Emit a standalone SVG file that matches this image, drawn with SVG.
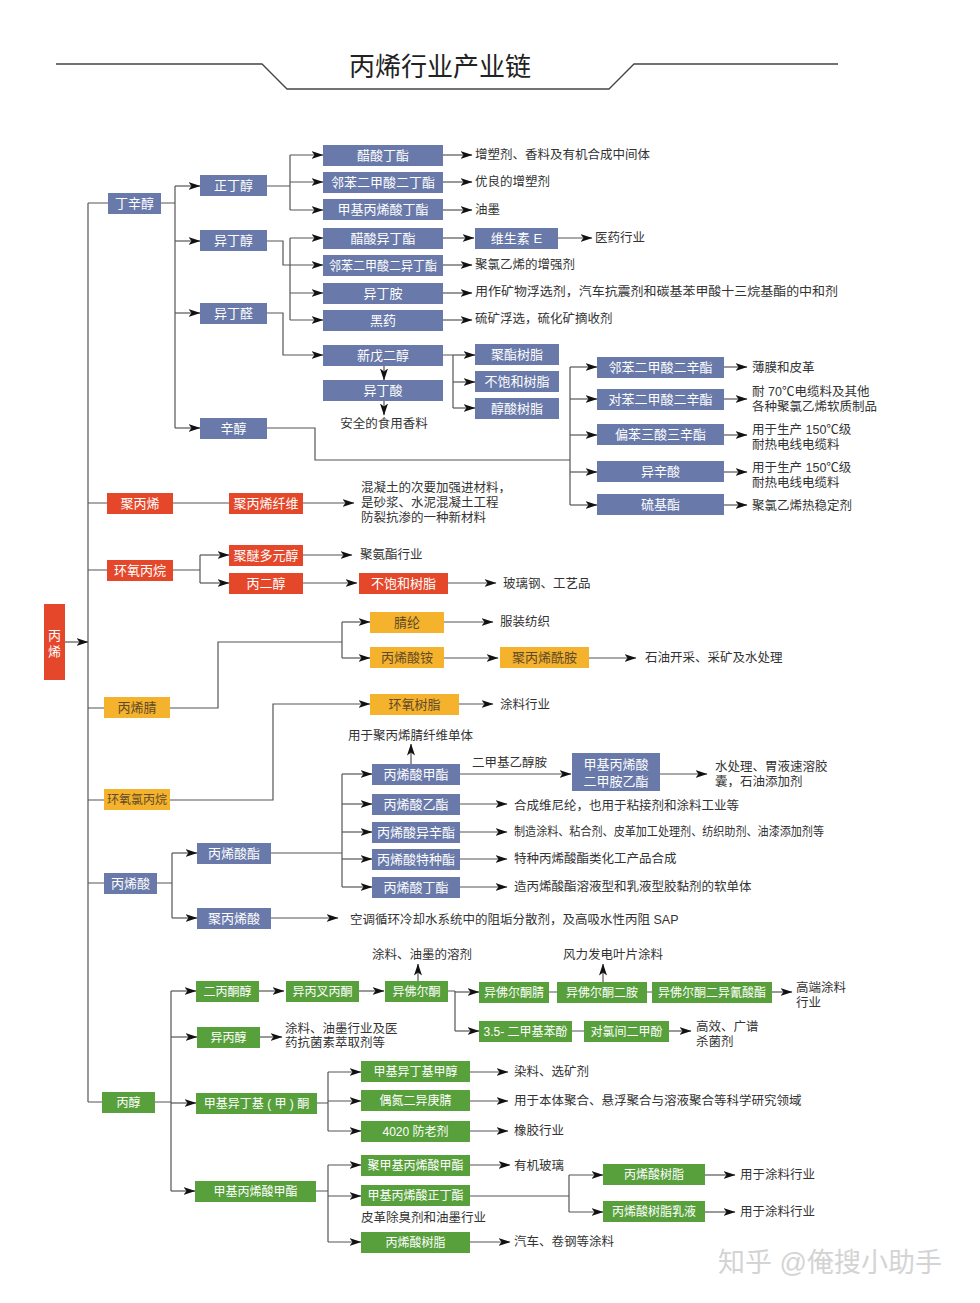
<svg xmlns="http://www.w3.org/2000/svg" width="980" height="1303" viewBox="0 0 980 1303">
<style>
.B{fill:#6879aa}.R{fill:#e4472a}.Y{fill:#f5b22c}.G{fill:#58a03c}
text{font-family:"Liberation Sans","Noto Sans CJK SC",sans-serif;dominant-baseline:central}
.t{font-size:13px;fill:#fff;text-anchor:middle}
.ty{font-size:13px;fill:#5e4a2a;text-anchor:middle}
.tg{font-size:12px;fill:#fff;text-anchor:middle}
.l{font-size:12.5px;fill:#333}
.lc{font-size:12.5px;fill:#333;text-anchor:middle}
.c{fill:none;stroke:#555;stroke-width:1.2}
.a{marker-end:url(#ah)}
</style>
<defs>
<marker id="ah" viewBox="0 0 12 8" refX="11.5" refY="4" markerWidth="12" markerHeight="8" markerUnits="userSpaceOnUse" orient="auto"><path d="M0,0 L12,4 L0,8 L3,4 z" fill="#111"/></marker>
</defs>
<rect width="980" height="1303" fill="#fff"/>
<g id="title">
<path d="M56,64 H262 L287,89 H609 L634,64 H838" fill="none" stroke="#444" stroke-width="1.3"/>
<text x="440" y="67" style="font-size:26px;fill:#222;text-anchor:middle">丙烯行业产业链</text>
</g>
<g id="connectors">
<path class="c a" d="M65,642 H88"/>
<path class="c" d="M88,203 V1102 M88,203 H108 M88,503 H107 M88,570 H107 M88,708 H104 M88,800 H104 M88,883 H104 M88,1102 H102"/>
<path class="c" d="M161,203 H175 M175,186 V428"/>
<path class="c a" d="M175,186 H200"/><path class="c a" d="M175,241 H200"/><path class="c a" d="M175,313 H200"/><path class="c a" d="M175,428 H200"/>
<path class="c" d="M267,186 H290 M290,155 V210 M290,238 V320"/>
<path class="c a" d="M290,155 H323"/><path class="c a" d="M290,182 H323"/><path class="c a" d="M290,210 H323"/>
<path class="c a" d="M267,241 H283 V265 H323"/>
<path class="c a" d="M290,238 H323"/><path class="c a" d="M290,293 H323"/><path class="c a" d="M290,320 H323"/>
<path class="c a" d="M267,313 H283 V355 H323"/>
<path class="c a" d="M443,155 H472"/><path class="c a" d="M443,182 H472"/><path class="c a" d="M443,210 H472"/><path class="c a" d="M443,238 H474"/><path class="c a" d="M558,238 H592"/><path class="c a" d="M443,265 H472"/><path class="c a" d="M443,293 H472"/><path class="c a" d="M443,320 H472"/>
<path class="c a" d="M384,366 V380"/><path class="c a" d="M384,401 V415"/>
<path class="c" d="M443,355 H453 M453,355 V408"/>
<path class="c a" d="M453,355 H475"/><path class="c a" d="M453,382 H475"/><path class="c a" d="M453,408 H475"/>
<path class="c" d="M267,428 H315 V460 H570 M570,367 V505"/>
<path class="c a" d="M570,367 H597"/><path class="c a" d="M570,399 H597"/><path class="c a" d="M570,435 H597"/><path class="c a" d="M570,472 H597"/><path class="c a" d="M570,505 H597"/>
<path class="c a" d="M724,367 H747"/><path class="c a" d="M724,399 H747"/><path class="c a" d="M724,435 H747"/><path class="c a" d="M724,472 H747"/><path class="c a" d="M724,505 H747"/>
<path class="c" d="M173,503 H229"/><path class="c a" d="M303,503 H354"/>
<path class="c" d="M173,570 H200 M200,555 V583"/>
<path class="c a" d="M200,555 H229"/><path class="c a" d="M200,583 H229"/>
<path class="c a" d="M303,555 H352"/><path class="c a" d="M303,583 H357"/><path class="c a" d="M448,583 H496"/>
<path class="c" d="M170,708 H218 V642 H342 M342,622 V658"/>
<path class="c a" d="M342,622 H370"/><path class="c a" d="M342,658 H370"/>
<path class="c a" d="M444,622 H493"/><path class="c a" d="M444,658 H498"/><path class="c a" d="M589,658 H636"/>
<path class="c a" d="M170,800 H273 V704 H370"/><path class="c a" d="M459,704 H493"/>
<path class="c" d="M157,883 H172 M172,853 V918"/>
<path class="c a" d="M172,853 H197"/><path class="c a" d="M172,918 H197"/>
<path class="c a" d="M271,918 H338"/>
<path class="c" d="M271,853 H342 M342,774 V887"/>
<path class="c a" d="M342,774 H372"/><path class="c a" d="M342,804 H372"/><path class="c a" d="M342,832 H372"/><path class="c a" d="M342,859 H372"/><path class="c a" d="M342,887 H372"/>
<path class="c a" d="M411,764 V744"/>
<path class="c a" d="M460,774 H571"/><path class="c a" d="M660,774 H707"/>
<path class="c a" d="M460,804 H507"/><path class="c a" d="M460,832 H507"/><path class="c a" d="M460,859 H507"/><path class="c a" d="M460,887 H507"/>
<path class="c" d="M154,1102 H171 M171,991 V1191"/>
<path class="c a" d="M171,991 H196"/><path class="c a" d="M171,1037 H197"/><path class="c a" d="M171,1103 H196"/><path class="c a" d="M171,1191 H195"/>
<path class="c a" d="M259,991 H284"/><path class="c a" d="M359,991 H384"/>
<path class="c a" d="M418,981 V964"/>
<path class="c" d="M448,991 H455 M455,991 V1031"/>
<path class="c a" d="M455,992 H479"/><path class="c a" d="M455,1031 H479"/>
<path class="c" d="M549,992 H557 M647,992 H652 M572,1031 H584"/>
<path class="c a" d="M772,992 H792"/><path class="c a" d="M603,982 V964"/><path class="c a" d="M669,1031 H691"/>
<path class="c a" d="M260,1037 H282"/>
<path class="c" d="M317,1103 H328 M328,1072 V1131"/>
<path class="c a" d="M328,1072 H361"/><path class="c a" d="M328,1101 H361"/><path class="c a" d="M328,1131 H361"/>
<path class="c a" d="M470,1072 H508"/><path class="c a" d="M470,1101 H508"/><path class="c a" d="M470,1131 H508"/>
<path class="c" d="M316,1191 H328 M328,1165 V1242"/>
<path class="c a" d="M328,1165 H361"/><path class="c a" d="M328,1196 H361"/><path class="c a" d="M328,1242 H361"/>
<path class="c a" d="M470,1165 H510"/><path class="c a" d="M470,1242 H510"/>
<path class="c" d="M470,1196 H569 M569,1175 V1212"/>
<path class="c a" d="M569,1175 H603"/><path class="c a" d="M569,1212 H603"/>
<path class="c a" d="M705,1175 H735"/><path class="c a" d="M705,1212 H735"/>
</g>
<g id="n-root"><rect class="R" x="44" y="604" width="21" height="76"/><text class="t" x="54.5" y="635">丙</text><text class="t" x="54.5" y="651">烯</text></g>
<g id="n-dingxinchun"><rect class="B" x="108" y="193" width="53" height="21"/><text class="t" x="134.5" y="203.5">丁辛醇</text></g>
<g id="n-zhengdingchun"><rect class="B" x="200" y="175" width="67" height="21"/><text class="t" x="233.5" y="185.5">正丁醇</text></g>
<g id="n-yidingchun"><rect class="B" x="200" y="230" width="67" height="21"/><text class="t" x="233.5" y="240.5">异丁醇</text></g>
<g id="n-yidingquan"><rect class="B" x="200" y="303" width="67" height="21"/><text class="t" x="233.5" y="313.5">异丁醛</text></g>
<g id="n-xinchun"><rect class="B" x="200" y="418" width="67" height="21"/><text class="t" x="233.5" y="428.5">辛醇</text></g>
<g id="n-cusuandingzhi"><rect class="B" x="323" y="145" width="120" height="21"/><text class="t" x="383" y="155.5">醋酸丁酯</text></g>
<g id="n-lbejdz"><rect class="B" x="323" y="172" width="120" height="21"/><text class="t" x="383" y="182.5">邻苯二甲酸二丁酯</text></g>
<g id="n-jjbxsdz"><rect class="B" x="323" y="199" width="120" height="21"/><text class="t" x="383" y="209.5">甲基丙烯酸丁酯</text></g>
<g id="n-cusuanyidingzhi"><rect class="B" x="323" y="228" width="120" height="21"/><text class="t" x="383" y="238.5">醋酸异丁酯</text></g>
<g id="n-lbejdyz"><rect class="B" x="323" y="255" width="120" height="21"/><text class="t" x="383" y="265.5" textLength="108" lengthAdjust="spacingAndGlyphs">邻苯二甲酸二异丁酯</text></g>
<g id="n-yidingan"><rect class="B" x="323" y="283" width="120" height="21"/><text class="t" x="383" y="293.5">异丁胺</text></g>
<g id="n-heiyao"><rect class="B" x="323" y="310" width="120" height="21"/><text class="t" x="383" y="320.5">黑药</text></g>
<g id="n-xinwuerchun"><rect class="B" x="323" y="345" width="120" height="21"/><text class="t" x="383" y="355.5">新戊二醇</text></g>
<g id="n-yidingsuan"><rect class="B" x="323" y="380" width="120" height="21"/><text class="t" x="383" y="390.5">异丁酸</text></g>
<g id="n-vite"><rect class="B" x="475" y="228" width="83" height="21"/><text class="t" x="516.5" y="238.5">维生素 E</text></g>
<g id="n-juzhishuzhi"><rect class="B" x="475" y="344" width="84" height="21"/><text class="t" x="517" y="354.5">聚酯树脂</text></g>
<g id="n-bubaohe1"><rect class="B" x="475" y="371" width="84" height="21"/><text class="t" x="517" y="381.5">不饱和树脂</text></g>
<g id="n-chunsuan"><rect class="B" x="475" y="398" width="84" height="21"/><text class="t" x="517" y="408.5">醇酸树脂</text></g>
<g id="n-lbexz"><rect class="B" x="597" y="357" width="127" height="21"/><text class="t" x="660.5" y="367.5">邻苯二甲酸二辛酯</text></g>
<g id="n-dbexz"><rect class="B" x="597" y="389" width="127" height="21"/><text class="t" x="660.5" y="399.5">对苯二甲酸二辛酯</text></g>
<g id="n-pbssxz"><rect class="B" x="597" y="424" width="127" height="21"/><text class="t" x="660.5" y="434.5">偏苯三酸三辛酯</text></g>
<g id="n-yixinsuan"><rect class="B" x="597" y="461" width="127" height="21"/><text class="t" x="660.5" y="471.5">异辛酸</text></g>
<g id="n-liujizhi"><rect class="B" x="597" y="494" width="127" height="21"/><text class="t" x="660.5" y="504.5">硫基酯</text></g>
<g id="n-jubingxi"><rect class="R" x="107" y="493" width="66" height="21"/><text class="t" x="140" y="503.5">聚丙烯</text></g>
<g id="n-jbxxw"><rect class="R" x="229" y="493" width="74" height="21"/><text class="t" x="266" y="503.5">聚丙烯纤维</text></g>
<g id="n-hybw"><rect class="R" x="107" y="560" width="66" height="21"/><text class="t" x="140" y="570.5">环氧丙烷</text></g>
<g id="n-jmdyc"><rect class="R" x="229" y="545" width="74" height="21"/><text class="t" x="266" y="555.5">聚醚多元醇</text></g>
<g id="n-bingerchun"><rect class="R" x="229" y="573" width="74" height="21"/><text class="t" x="266" y="583.5">丙二醇</text></g>
<g id="n-bubaohe2"><rect class="R" x="359" y="573" width="89" height="21"/><text class="t" x="403.5" y="583.5">不饱和树脂</text></g>
<g id="n-bingxijing"><rect class="Y" x="104" y="697" width="66" height="21"/><text class="ty" x="137" y="707.5">丙烯腈</text></g>
<g id="n-hylbw"><rect class="Y" x="104" y="789" width="66" height="21"/><text class="ty" x="137" y="799.5" style="font-size:12px" textLength="60" lengthAdjust="spacingAndGlyphs">环氧氯丙烷</text></g>
<g id="n-jinglun"><rect class="Y" x="370" y="612" width="74" height="21"/><text class="ty" x="407" y="622.5">腈纶</text></g>
<g id="n-bxsa"><rect class="Y" x="370" y="647" width="74" height="21"/><text class="ty" x="407" y="657.5">丙烯酸铵</text></g>
<g id="n-jbxxa"><rect class="Y" x="500" y="647" width="89" height="21"/><text class="ty" x="544.5" y="657.5">聚丙烯酰胺</text></g>
<g id="n-hysz"><rect class="Y" x="370" y="694" width="89" height="21"/><text class="ty" x="414.5" y="704.5">环氧树脂</text></g>
<g id="n-bingxisuan"><rect class="B" x="104" y="873" width="53" height="21"/><text class="t" x="130.5" y="883.5">丙烯酸</text></g>
<g id="n-bxsz"><rect class="B" x="197" y="843" width="74" height="21"/><text class="t" x="234" y="853.5">丙烯酸酯</text></g>
<g id="n-jbxs"><rect class="B" x="197" y="908" width="74" height="21"/><text class="t" x="234" y="918.5">聚丙烯酸</text></g>
<g id="n-bxsjz"><rect class="B" x="372" y="764" width="88" height="21"/><text class="t" x="416" y="774.5">丙烯酸甲酯</text></g>
<g id="n-bxsyz"><rect class="B" x="372" y="794" width="88" height="21"/><text class="t" x="416" y="804.5">丙烯酸乙酯</text></g>
<g id="n-bxsyxz"><rect class="B" x="372" y="822" width="88" height="21"/><text class="t" x="416" y="832.5">丙烯酸异辛酯</text></g>
<g id="n-bxstzz"><rect class="B" x="372" y="849" width="88" height="21"/><text class="t" x="416" y="859.5">丙烯酸特种酯</text></g>
<g id="n-bxsdz"><rect class="B" x="372" y="877" width="88" height="21"/><text class="t" x="416" y="887.5">丙烯酸丁酯</text></g>
<g id="n-jjbxsejayz"><rect class="B" x="572" y="753" width="88" height="38"/><text class="t" x="616" y="764">甲基丙烯酸</text><text class="t" x="616" y="781">二甲胺乙酯</text></g>
<g id="n-bingchun"><rect class="G" x="102" y="1092" width="53" height="21"/><text class="tg" x="128.5" y="1102.5">丙醇</text></g>
<g id="n-ebtc"><rect class="G" x="196" y="981" width="63" height="21"/><text class="tg" x="227.5" y="991.5">二丙酮醇</text></g>
<g id="n-ybcbt"><rect class="G" x="286" y="981" width="73" height="21"/><text class="tg" x="322.5" y="991.5">异丙叉丙酮</text></g>
<g id="n-yfet"><rect class="G" x="385" y="981" width="63" height="21"/><text class="tg" x="416.5" y="991.5">异佛尔酮</text></g>
<g id="n-yfetj"><rect class="G" x="479" y="982" width="70" height="21"/><text class="tg" x="514" y="992.5">异佛尔酮腈</text></g>
<g id="n-yfetea"><rect class="G" x="557" y="982" width="90" height="21"/><text class="tg" x="602" y="992.5">异佛尔酮二胺</text></g>
<g id="n-yfeteyqsz"><rect class="G" x="652" y="982" width="120" height="21"/><text class="tg" x="712" y="992.5">异佛尔酮二异氰酸酯</text></g>
<g id="n-35ejbf"><rect class="G" x="479" y="1021" width="93" height="21"/><text class="tg" x="525.5" y="1031.5">3.5- 二甲基苯酚</text></g>
<g id="n-dljejf"><rect class="G" x="584" y="1021" width="85" height="21"/><text class="tg" x="626.5" y="1031.5">对氯间二甲酚</text></g>
<g id="n-yibingchun"><rect class="G" x="197" y="1027" width="63" height="21"/><text class="tg" x="228.5" y="1037.5">异丙醇</text></g>
<g id="n-jjydjt"><rect class="G" x="196" y="1093" width="121" height="21"/><text class="tg" x="256.5" y="1103.5">甲基异丁基 ( 甲 ) 酮</text></g>
<g id="n-jjydjjc"><rect class="G" x="361" y="1061" width="109" height="21"/><text class="tg" x="415.5" y="1071.5">甲基异丁基甲醇</text></g>
<g id="n-odeygj"><rect class="G" x="361" y="1090" width="109" height="21"/><text class="tg" x="415.5" y="1100.5">偶氮二异庚腈</text></g>
<g id="n-4020"><rect class="G" x="361" y="1121" width="109" height="21"/><text class="tg" x="415.5" y="1131.5">4020 防老剂</text></g>
<g id="n-jjbxsjz"><rect class="G" x="195" y="1181" width="121" height="21"/><text class="tg" x="255.5" y="1191.5">甲基丙烯酸甲酯</text></g>
<g id="n-jjjbxsjz"><rect class="G" x="361" y="1155" width="109" height="21"/><text class="tg" x="415.5" y="1165.5">聚甲基丙烯酸甲酯</text></g>
<g id="n-jjbxszdz"><rect class="G" x="361" y="1185" width="109" height="21"/><text class="tg" x="415.5" y="1195.5">甲基丙烯酸正丁酯</text></g>
<g id="n-bxssz1"><rect class="G" x="361" y="1232" width="109" height="21"/><text class="tg" x="415.5" y="1242.5">丙烯酸树脂</text></g>
<g id="n-bxssz2"><rect class="G" x="603" y="1164" width="102" height="21"/><text class="tg" x="654" y="1174.5">丙烯酸树脂</text></g>
<g id="n-bxsszry"><rect class="G" x="603" y="1201" width="102" height="21"/><text class="tg" x="654" y="1211.5">丙烯酸树脂乳液</text></g>
<g id="labels">
<text class="l" x="475" y="155">增塑剂、香料及有机合成中间体</text>
<text class="l" x="475" y="182">优良的增塑剂</text>
<text class="l" x="475" y="210">油墨</text>
<text class="l" x="595" y="238">医药行业</text>
<text class="l" x="475" y="265">聚氯乙烯的增强剂</text>
<text class="l" x="475" y="292" textLength="363" lengthAdjust="spacingAndGlyphs">用作矿物浮选剂，汽车抗震剂和碳基苯甲酸十三烷基酯的中和剂</text>
<text class="l" x="475" y="319">硫矿浮选，硫化矿摘收剂</text>
<text class="lc" x="384" y="424">安全的食用香料</text>
<text class="l" x="752" y="368">薄膜和皮革</text>
<text class="l" x="752" y="392">耐 70℃电缆料及其他</text>
<text class="l" x="752" y="407">各种聚氯乙烯软质制品</text>
<text class="l" x="752" y="430">用于生产 150℃级</text>
<text class="l" x="752" y="445">耐热电线电缆料</text>
<text class="l" x="752" y="468">用于生产 150℃级</text>
<text class="l" x="752" y="483">耐热电线电缆料</text>
<text class="l" x="752" y="506">聚氯乙烯热稳定剂</text>
<text class="l" x="361" y="488">混凝土的次要加强进材料，</text>
<text class="l" x="361" y="503">是砂浆、水泥混凝土工程</text>
<text class="l" x="361" y="518">防裂抗渗的一种新材料</text>
<text class="l" x="360" y="555">聚氨酯行业</text>
<text class="l" x="503" y="584">玻璃钢、工艺品</text>
<text class="l" x="500" y="622">服装纺织</text>
<text class="l" x="645" y="658">石油开采、采矿及水处理</text>
<text class="l" x="500" y="705">涂料行业</text>
<text class="l" x="348" y="736">用于聚丙烯腈纤维单体</text>
<text class="l" x="472" y="763">二甲基乙醇胺</text>
<text class="l" x="715" y="767">水处理、胃液速溶胶</text>
<text class="l" x="715" y="782">囊，石油添加剂</text>
<text class="l" x="514" y="806">合成维尼纶，也用于粘接剂和涂料工业等</text>
<text class="l" x="514" y="832" textLength="310" lengthAdjust="spacingAndGlyphs">制造涂料、粘合剂、皮革加工处理剂、纺织助剂、油漆添加剂等</text>
<text class="l" x="514" y="859">特种丙烯酸酯类化工产品合成</text>
<text class="l" x="514" y="887">造丙烯酸酯溶液型和乳液型胶黏剂的软单体</text>
<text class="l" x="350" y="920">空调循环冷却水系统中的阻垢分散剂，及高吸水性丙阻 SAP</text>
<text class="l" x="372" y="955">涂料、油墨的溶剂</text>
<text class="l" x="563" y="955">风力发电叶片涂料</text>
<text class="l" x="796" y="988">高端涂料</text>
<text class="l" x="796" y="1003">行业</text>
<text class="l" x="285" y="1029">涂料、油墨行业及医</text>
<text class="l" x="285" y="1043">药抗菌素萃取剂等</text>
<text class="l" x="696" y="1027">高效、广谱</text>
<text class="l" x="696" y="1042">杀菌剂</text>
<text class="l" x="514" y="1072">染料、选矿剂</text>
<text class="l" x="514" y="1101">用于本体聚合、悬浮聚合与溶液聚合等科学研究领域</text>
<text class="l" x="514" y="1131">橡胶行业</text>
<text class="l" x="514" y="1166">有机玻璃</text>
<text class="l" x="361" y="1218">皮革除臭剂和油墨行业</text>
<text class="l" x="514" y="1242">汽车、卷钢等涂料</text>
<text class="l" x="740" y="1175">用于涂料行业</text>
<text class="l" x="740" y="1212">用于涂料行业</text>
</g>
<text x="718" y="1263" style="font-size:27px;fill:#d4d4d4">知乎 @俺搜小助手</text>
</svg>
